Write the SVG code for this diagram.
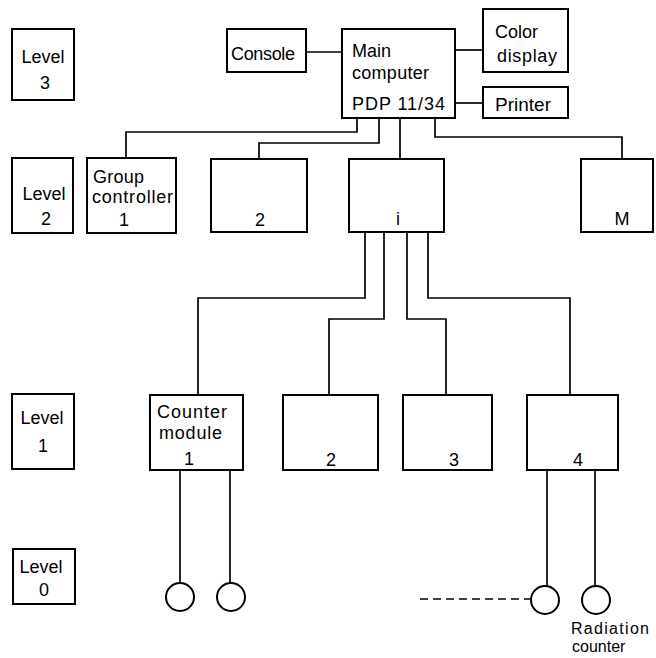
<svg xmlns="http://www.w3.org/2000/svg" width="656" height="658" viewBox="0 0 656 658">
<style>
rect{fill:#fff;stroke:#000;stroke-width:2}
circle{fill:#fff;stroke:#000;stroke-width:2}
.c path,.c line{fill:none;stroke:#000;stroke-width:1.7}
text{font-family:"Liberation Sans",Arial,sans-serif;font-size:18px;fill:#000}
.m{text-anchor:middle}
.s{font-size:16px}
</style>
<rect width="656" height="658" style="fill:#fff;stroke:none"/>
<g class="c" id="connectors">
<line x1="306" y1="52" x2="342" y2="52"/>
<line x1="455" y1="50" x2="483" y2="50"/>
<line x1="455" y1="103" x2="483" y2="103"/>
<path d="M357 118V132H126V158"/>
<path d="M379 118V143H259V158"/>
<path d="M400 118V158"/>
<path d="M435 118V137H622V158"/>
<path d="M365 232V298H198V395"/>
<path d="M384 232V319H329V395"/>
<path d="M407 232V319H446V395"/>
<path d="M428 232V298H570V395"/>
<path d="M180 470V584"/>
<path d="M230 470V584"/>
<path d="M547 470V587"/>
<path d="M595 470V587"/>
<path d="M420 599H531" stroke-dasharray="8 5"/>
</g>
<g id="level3"><rect x="12" y="29" width="62" height="71"/><text x="43" y="63" class="m">Level</text><text x="45" y="89" class="m">3</text></g>
<g id="level2"><rect x="12" y="158" width="61" height="75"/><text x="44" y="200" class="m">Level</text><text x="46" y="225" class="m">2</text></g>
<g id="level1"><rect x="12" y="394" width="62" height="75"/><text x="42" y="424" class="m">Level</text><text x="43" y="452" class="m">1</text></g>
<g id="level0"><rect x="13" y="549" width="62" height="55"/><text x="41" y="573" class="m">Level</text><text x="44" y="596" class="m">0</text></g>
<g id="console"><rect x="227" y="29" width="79" height="43"/><text x="231" y="60" textLength="64">Console</text></g>
<g id="main"><rect x="342" y="29" width="113" height="89"/><text x="352" y="57">Main</text><text x="352" y="79" textLength="77">computer</text><text x="352" y="110" textLength="93">PDP 11/34</text></g>
<g id="colordisplay"><rect x="483" y="9" width="85" height="63"/><text x="495" y="38">Color</text><text x="497" y="62" textLength="60">display</text></g>
<g id="printer"><rect x="483" y="87" width="85" height="31"/><text x="495" y="111" style="font-size:19px">Printer</text></g>
<g id="gc1"><rect x="87" y="158" width="89" height="75"/><text x="93" y="183" textLength="51">Group</text><text x="92" y="203" textLength="81">controller</text><text x="124" y="226" class="m">1</text></g>
<g id="gc2"><rect x="211" y="159" width="96" height="73"/><text x="260" y="226" class="m">2</text></g>
<g id="gci"><rect x="349" y="159" width="95" height="73"/><text x="398" y="225" class="m">i</text></g>
<g id="gcM"><rect x="581" y="159" width="72" height="73"/><text x="622" y="225" class="m">M</text></g>
<g id="cm1"><rect x="150" y="395" width="93" height="75"/><text x="157" y="418" textLength="70">Counter</text><text x="159" y="439" textLength="63">module</text><text x="189" y="465" class="m">1</text></g>
<g id="cm2"><rect x="283" y="395" width="95" height="75"/><text x="331" y="466" class="m">2</text></g>
<g id="cm3"><rect x="403" y="395" width="89" height="75"/><text x="454" y="466" class="m">3</text></g>
<g id="cm4"><rect x="527" y="395" width="91" height="75"/><text x="578" y="466" class="m">4</text></g>
<g id="rc1"><circle cx="180" cy="597" r="14"/></g>
<g id="rc2"><circle cx="231" cy="597" r="14"/></g>
<g id="rc3"><circle cx="545" cy="600" r="14"/></g>
<g id="rc4"><circle cx="596" cy="600" r="14"/></g>
<g id="label"><text x="571" y="634" class="s" textLength="78">Radiation</text><text x="572" y="652" class="s">counter</text></g>
</svg>
